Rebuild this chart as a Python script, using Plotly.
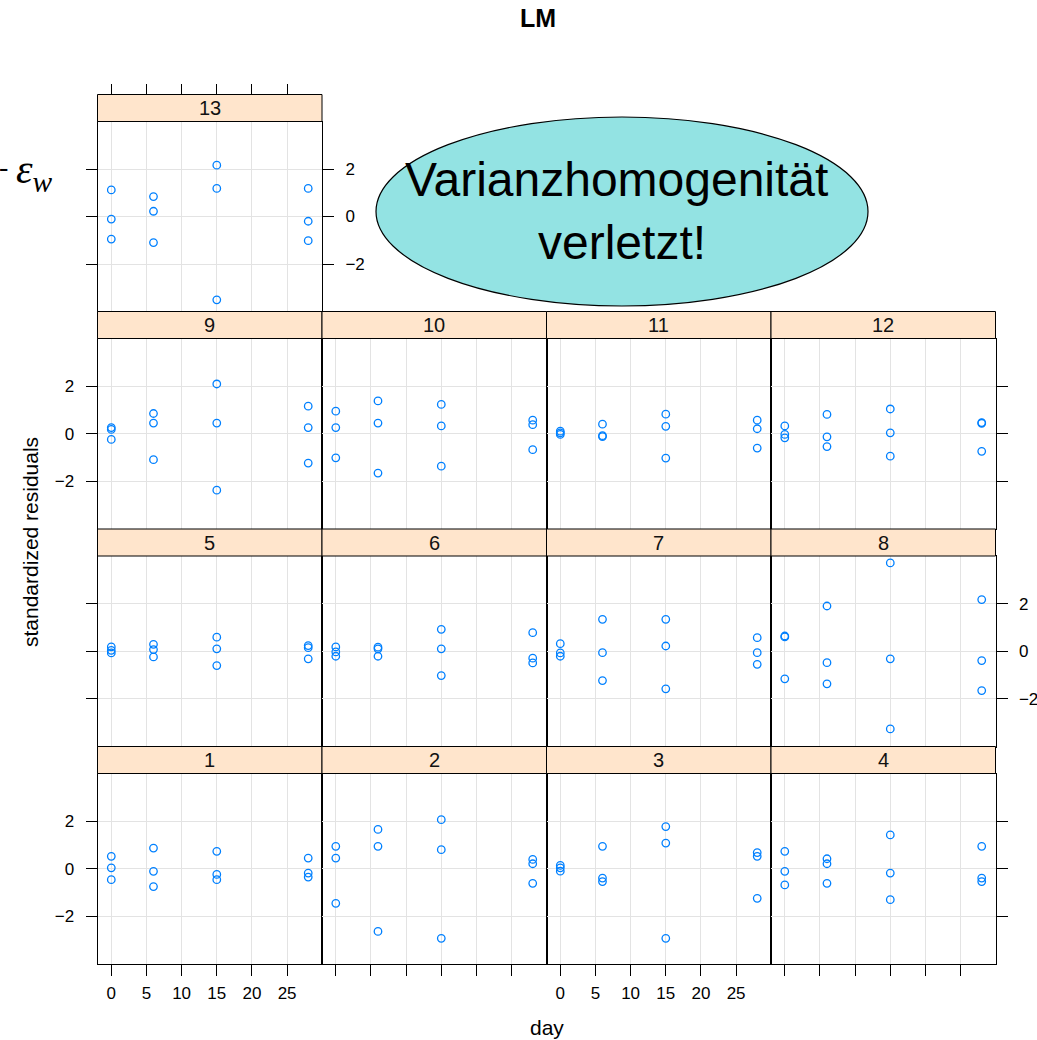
import plotly.graph_objects as go

W, H = 1037, 1040

# ---------------- data ----------------
panels = [1, 2, 3, 4, 5, 6, 7, 8, 9, 10, 11, 12, 13]
day = [0, 0, 0, 6, 6, 6, 15, 15, 15, 28, 28, 28]

res_p1 = [0.52, 0.04, -0.46, 0.87, -0.11, -0.75, 0.73, -0.24, -0.46, 0.45, -0.18, -0.35]
res_p2 = [0.94, 0.45, -1.45, 1.65, 0.94, -2.63, 2.06, 0.80, -2.92, 0.39, 0.21, -0.61]
res_p3 = [0.14, 0.04, -0.10, 0.94, -0.39, -0.54, 1.77, 1.08, -2.92, 0.68, 0.52, -1.24]
res_p4 = [0.73, -0.11, -0.68, 0.42, 0.21, -0.61, 1.42, -0.18, -1.30, 0.94, -0.39, -0.54]
res_p5 = [0.18, 0.04, -0.07, 0.29, 0.07, -0.24, 0.59, 0.10, -0.60, 0.24, 0.15, -0.32]
res_p6 = [0.18, -0.03, -0.21, 0.17, 0.10, -0.21, 0.92, 0.10, -1.02, 0.78, -0.29, -0.49]
res_p7 = [0.32, -0.07, -0.21, 1.34, -0.06, -1.23, 1.34, 0.22, -1.58, 0.57, -0.06, -0.55]
res_p8 = [0.64, 0.60, -1.16, 1.90, -0.48, -1.37, 3.71, -0.32, -3.26, 2.17, -0.39, -1.65]
res_p9 = [0.26, 0.18, -0.24, 0.85, 0.45, -1.09, 2.09, 0.45, -2.37, 1.16, 0.26, -1.23]
res_p10 = [0.95, 0.26, -1.01, 1.38, 0.45, -1.65, 1.23, 0.33, -1.36, 0.57, 0.38, -0.67]
res_p11 = [0.11, 0.04, -0.03, 0.40, -0.08, -0.12, 0.82, 0.31, -1.02, 0.57, 0.21, -0.60]
res_p12 = [0.33, -0.03, -0.17, 0.81, -0.13, -0.54, 1.04, 0.04, -0.94, 0.47, 0.44, -0.74]
res_p13 = [1.12, -0.11, -0.95, 0.84, 0.22, -1.10, 2.16, 1.18, -3.51, 1.18, -0.20, -1.02]

residuals = [res_p1, res_p2, res_p3, res_p4, res_p5, res_p6, res_p7,
             res_p8, res_p9, res_p10, res_p11, res_p12, res_p13]

x_ticks = [0, 5, 10, 15, 20, 25]
y_ticks = [-2, 0, 2]
x_range = [-1.96, 29.96]
y_range = [-4.0, 4.0]

title_text = "LM"
x_label = "day"
y_label = "standardized residuals"
callout_line1 = "Varianzhomogenität"
callout_line2 = "verletzt!"

# ---------------- layout geometry (pixels) ----------------
col_edges = [97.5, 322.0, 546.5, 771.0, 995.5]
row_bounds = [94.5, 311.5, 529.0, 746.5, 964.0]   # strip tops (top row first), last = bottom
strip_h = 27.0

FONT = "Liberation Sans, Arial, Helvetica, sans-serif"
SERIF = "Liberation Serif, Times New Roman, serif"
BLUE = "#0080ff"
GRID = "#e3e3e3"


def px(xp):
    return xp / W


def py(yp):
    return 1 - yp / H


fig = go.Figure()
shapes = []
annotations = []

for idx, p in enumerate(panels):
    r = (p - 1) // 4          # row from bottom
    c = (p - 1) % 4
    k = 3 - r                 # row from top
    xd = [px(col_edges[c]), px(col_edges[c + 1])]
    top = row_bounds[k] + strip_h
    bot = row_bounds[k + 1]
    yd = [py(bot), py(top)]

    fig.add_trace(go.Scatter(
        x=day, y=residuals[idx], mode="markers",
        xaxis=f"x{p}", yaxis=f"y{p}",
        marker=dict(symbol="circle-open", size=7.5, color=BLUE,
                    line=dict(width=1.3, color=BLUE)),
        showlegend=False, hoverinfo="x+y",
    ))

    xa = dict(domain=xd, anchor=f"y{p}", range=x_range, tickvals=x_ticks,
              showgrid=True, gridcolor=GRID, gridwidth=1.2, zeroline=False,
              showline=True, linecolor="black", linewidth=1, mirror=True,
              ticks="", showticklabels=False, ticklen=11, tickcolor="black",
              tickwidth=1, tickfont=dict(family=FONT, size=17, color="black"),
              ticklabelstandoff=3, fixedrange=True)
    if r == 0:
        xa.update(ticks="outside", side="bottom", showticklabels=(c in (0, 2)))
    ya = dict(domain=yd, anchor=f"x{p}", range=y_range, tickvals=y_ticks,
              showgrid=True, gridcolor=GRID, gridwidth=1.2, zeroline=False,
              showline=True, linecolor="black", linewidth=1, mirror=True,
              ticks="", showticklabels=False, ticklen=11, tickcolor="black",
              tickwidth=1, tickfont=dict(family=FONT, size=17, color="black"),
              ticklabelstandoff=8, fixedrange=True)
    if p == 13:
        ya.update(side="right", ticks="outside", showticklabels=True, mirror="allticks")
    elif p in (1, 9):
        ya.update(side="left", ticks="outside", showticklabels=True)
    elif p == 5:
        ya.update(side="left", ticks="outside", showticklabels=False)
    elif p == 8:
        ya.update(side="right", ticks="outside", showticklabels=True)
    elif p in (4, 12):
        ya.update(side="right", ticks="outside", showticklabels=False)

    fig.layout[f"xaxis{p}"] = xa
    fig.layout[f"yaxis{p}"] = ya

    shapes.append(dict(type="rect", xref="paper", yref="paper",
                       x0=xd[0], x1=xd[1], y0=py(row_bounds[k] + strip_h), y1=py(row_bounds[k]),
                       fillcolor="#ffe5cc", line=dict(color="black", width=1), layer="above"))
    annotations.append(dict(text=str(p), xref="paper", yref="paper",
                            x=(xd[0] + xd[1]) / 2, y=py(row_bounds[k] + strip_h / 2),
                            xanchor="center", yanchor="middle", showarrow=False,
                            font=dict(family=FONT, size=20, color="#111111")))

# top ticks above panel 13's strip
fig.add_trace(go.Scatter(x=[None], y=[None], xaxis="x14", yaxis="y13",
                         showlegend=False, hoverinfo="skip"))
fig.layout["xaxis14"] = dict(overlaying="x13", anchor="free", position=py(row_bounds[0]),
                             side="top", range=x_range, tickvals=x_ticks, ticks="outside",
                             ticklen=11, tickcolor="black", tickwidth=1,
                             showticklabels=False, showgrid=False, showline=False,
                             zeroline=False, fixedrange=True)

# callout ellipse
shapes.append(dict(type="circle", xref="paper", yref="paper",
                   x0=px(376), x1=px(868), y0=py(306), y1=py(117),
                   fillcolor="#93e3e3", line=dict(color="black", width=1.2), layer="above"))
annotations.append(dict(text=callout_line1, xref="paper", yref="paper",
                        x=px(616), y=py(179), xanchor="center", yanchor="middle",
                        showarrow=False, font=dict(family=FONT, size=48, color="black")))
annotations.append(dict(text=callout_line2, xref="paper", yref="paper",
                        x=px(622), y=py(242), xanchor="center", yanchor="middle",
                        showarrow=False, font=dict(family=FONT, size=48, color="black")))

# leftover formula fragment at left edge
annotations.append(dict(text="-", xref="paper", yref="paper",
                        x=px(3), y=py(166), xanchor="center", yanchor="middle",
                        showarrow=False, font=dict(family=SERIF, size=28, color="black")))
annotations.append(dict(text="<i>ε<sub>w</sub></i>", xref="paper", yref="paper",
                        x=px(55), y=py(172), xanchor="right", yanchor="middle",
                        showarrow=False, font=dict(family=SERIF, size=42, color="black")))

# title and axis labels
annotations.append(dict(text=f"<b>{title_text}</b>", xref="paper", yref="paper",
                        x=px(538), y=py(18), xanchor="center", yanchor="middle",
                        showarrow=False, font=dict(family=FONT, size=25, color="black")))
annotations.append(dict(text=x_label, xref="paper", yref="paper",
                        x=px(547), y=py(1027), xanchor="center", yanchor="middle",
                        showarrow=False, font=dict(family=FONT, size=21, color="black")))
annotations.append(dict(text=y_label, xref="paper", yref="paper",
                        x=px(30), y=py(542), xanchor="center", yanchor="middle",
                        textangle=-90, showarrow=False,
                        font=dict(family=FONT, size=21, color="black")))

fig.update_layout(width=W, height=H, margin=dict(l=0, r=0, t=0, b=0),
                  paper_bgcolor="white", plot_bgcolor="white",
                  shapes=shapes, annotations=annotations, showlegend=False)

fig.write_html("out.html", config={"displayModeBar": False},
               post_script="document.body.style.margin='0';document.body.style.overflow='hidden';")
